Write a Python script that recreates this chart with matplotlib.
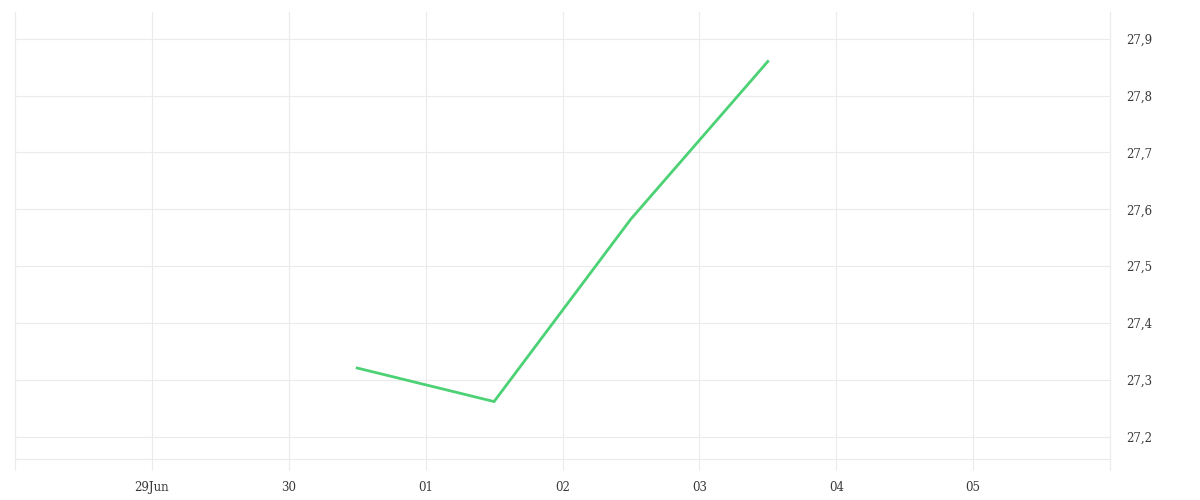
import matplotlib
matplotlib.use("Agg")
import matplotlib.pyplot as plt
import matplotlib.dates as mdates
import numpy as np
import pandas as pd

# data
dates = pd.to_datetime(["2023-06-30 12:00", "2023-07-01 12:00",
                        "2023-07-02 12:00", "2023-07-03 12:00"])
values = [27.321, 27.262, 27.583, 27.86]

tick_days = pd.date_range("2023-06-28", "2023-07-06", freq="D")
tick_labels = ["", "29Jun", "30", "01", "02", "03", "04", "05", ""]
y_ticks = [27.2, 27.3, 27.4, 27.5, 27.6, 27.7, 27.8, 27.9]

grid_col = "#ebebeb"
text_col = "#3a3a3a"

plt.rcParams['font.family'] = ['DejaVu Serif']

fig = plt.figure(figsize=(12, 5), dpi=100)
ax = fig.add_axes([15/1200, 41/500, (1110-15)/1200, (459-12)/500])

ax.plot(dates, values, color="#4cd175", linewidth=2.0, solid_joinstyle="miter")

ax.set_xlim(tick_days[0], tick_days[-1])
ax.set_ylim(27.161, 27.947)

ax.set_xticks(tick_days)
ax.set_xticklabels(tick_labels)
ax.set_yticks(y_ticks)
ax.set_yticklabels([f"{v:.1f}".replace(".", ",") for v in y_ticks])

ax.yaxis.tick_right()
ax.tick_params(axis="y", length=0, pad=12, labelsize=8.5, labelcolor=text_col)
ax.tick_params(axis="x", length=8, width=0.8, color=grid_col, pad=8,
               labelsize=8.5, labelcolor=text_col)

ax.grid(True, color=grid_col, linewidth=0.8)
ax.set_axisbelow(True)
ax.spines["top"].set_visible(False)
for s in ["left", "right", "bottom"]:
    ax.spines[s].set_color(grid_col)
    ax.spines[s].set_linewidth(0.8)

fig.savefig("out.png", dpi=100)
